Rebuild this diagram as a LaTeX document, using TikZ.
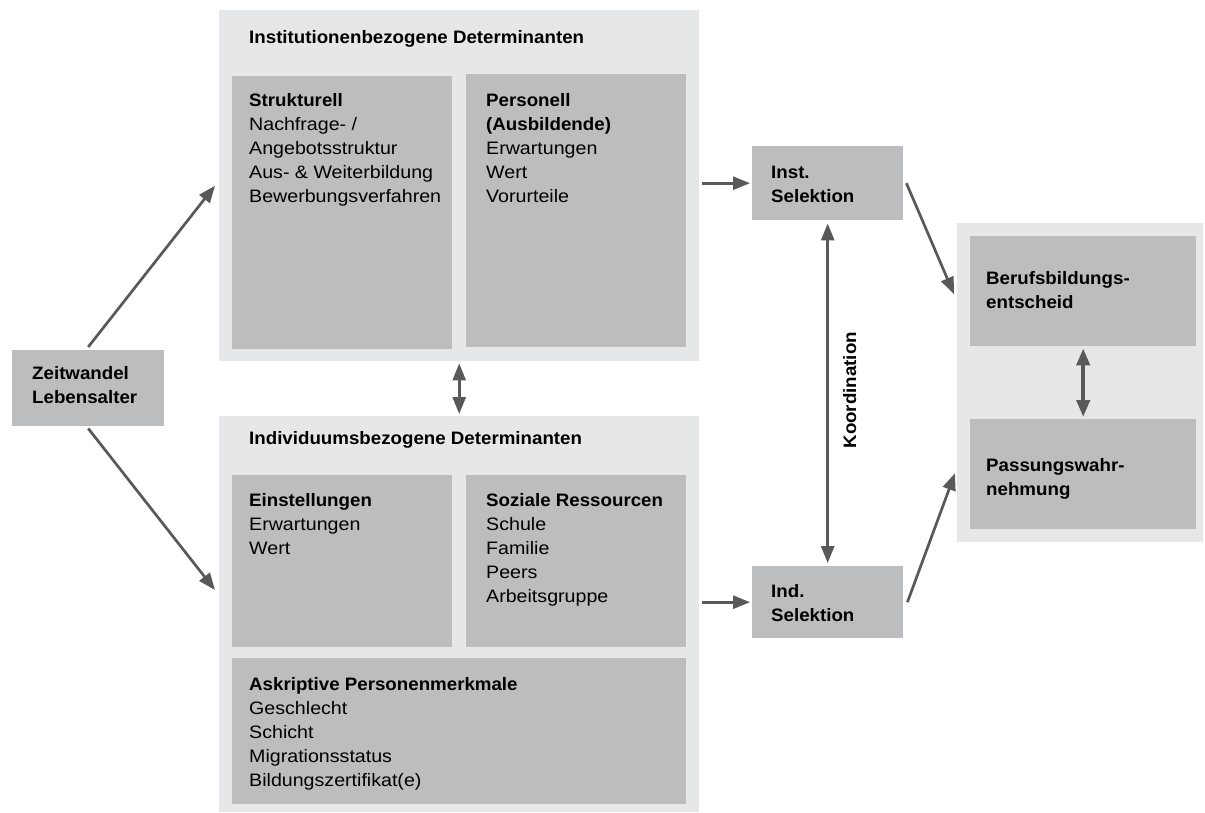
\documentclass[tikz,border=0pt]{standalone}
\usepackage{fontspec}
\setmainfont{Liberation Sans}[FakeStretch=1.09, BoldFeatures={FakeStretch=1.04}]
\usetikzlibrary{arrows.meta,calc}
\definecolor{outerc}{HTML}{E6E7E8}
\definecolor{innerc}{HTML}{BCBDBF}
\definecolor{arrc}{HTML}{58595B}
\tikzset{
  obox/.style 2 args={fill=outerc, draw=none, anchor=north west, inner sep=0pt, minimum width=#1, minimum height=#2},
  ibox/.style 2 args={fill=innerc, draw=none, anchor=north west, inner sep=0pt, minimum width=#1, minimum height=#2},
  txt/.style={anchor=base west, inner sep=0pt, font=\fontsize{18}{24}\selectfont},
  arr/.style={draw=arrc, line width=2.7pt, -{Triangle[length=17pt,width=13pt]}},
  darr/.style={draw=arrc, line width=2.7pt, {Triangle[length=17pt,width=13pt]}-{Triangle[length=17pt,width=13pt]}},
}
\newcommand\txtlines[4]{%
  \foreach \t [count=\i from 0] in {#4}{
    \node[txt] (#1\i) at (#2, #3+\i*24) {\t};
  }}
\begin{document}
\begin{tikzpicture}[x=1pt,y=-1pt]
\useasboundingbox[fill=white] (0,0) rectangle (1205,812);
% boxes
\node[obox={480}{351}] (instOut) at (219,10) {};
\node[ibox={220}{273}] (struk) at (232,76) {};
\node[ibox={220}{273}] (pers) at (466,74) {};
\node[obox={480}{396}] (indOut) at (219,416) {};
\node[ibox={220}{172}] (einst) at (232,475) {};
\node[ibox={220}{172}] (soz) at (466,475) {};
\node[ibox={454}{146}] (askr) at (232,658) {};
\node[ibox={152}{76}] (zeit) at (12,350) {};
\node[ibox={151}{74}] (instSel) at (752,146) {};
\node[ibox={151}{72}] (indSel) at (752,566) {};
\node[obox={246}{319}] (rightOut) at (957,223) {};
\node[ibox={226}{110}] (beruf) at (970,236) {};
\node[ibox={226}{110}] (pass) at (970,419) {};
% texts
\txtlines{hInst}{249}{43}{\textbf{Institutionenbezogene Determinanten}}
\txtlines{tStruk}{249}{106}{\textbf{Strukturell}, Nachfrage- /, Angebotsstruktur, Aus- \& Weiterbildung, Bewerbungsverfahren}
\txtlines{tPers}{486}{106}{\textbf{Personell}, \textbf{(Ausbildende)}, Erwartungen, Wert, Vorurteile}
\txtlines{tZeit}{32}{379}{\textbf{Zeitwandel}, \textbf{Lebensalter}}
\txtlines{tInst}{771}{178}{\textbf{Inst.}, \textbf{Selektion}}
\txtlines{tInd}{771}{597}{\textbf{Ind.}, \textbf{Selektion}}
\txtlines{tBeruf}{986}{284}{\textbf{Berufsbildungs-}, \textbf{entscheid}}
\txtlines{tPass}{986}{471}{\textbf{Passungswahr-}, \textbf{nehmung}}
\txtlines{hInd}{249}{444}{\textbf{Individuumsbezogene Determinanten}}
\txtlines{tEinst}{249}{506}{\textbf{Einstellungen}, Erwartungen, Wert}
\txtlines{tSoz}{486}{506}{\textbf{Soziale Ressourcen}, Schule, Familie, Peers, Arbeitsgruppe}
\txtlines{tAskr}{249}{690}{\textbf{Askriptive Personenmerkmale}, Geschlecht, Schicht, Migrationsstatus, Bildungszertifikat(e)}
% connectors
\draw[arr] ([yshift=3pt]zeit.north) -- ($(instOut.west)+(-4,0)$);
\draw[arr] ([yshift=-2pt]zeit.south) -- ($(indOut.north west)+(-4,174)$);
\draw[darr] ([yshift=-2pt]instOut.south) -- ([yshift=2pt]indOut.north);
\draw[arr] ($(instOut.east |- instSel.west)+(3,0)$) -- ($(instSel.west)+(-2,0)$);
\draw[arr] ($(indOut.east |- indSel.west)+(3,0)$) -- ($(indSel.west)+(-2,0)$);
\draw[darr] ($(instSel.south)+(0,3)$) -- ($(indSel.north)+(0,-3)$);
\node[anchor=base, rotate=90, inner sep=0pt, font=\fontsize{18}{24}\selectfont\bfseries] (koord) at ($(instSel.south)!0.5!(indSel.north)+(28.5,-3)$) {Koordination};
\draw[arr] ($(instSel.east)+(3,0)$) -- ($(rightOut.west |- beruf.west)+(-3,3)$);
\draw[arr] ($(indSel.east)+(4,0)$) -- ($(rightOut.west |- pass.west)+(-2,-1)$);
\draw[darr, line width=4pt] ($(beruf.south)+(0,2)$) -- ($(pass.north)+(0,-2)$);
\end{tikzpicture}
\end{document}
